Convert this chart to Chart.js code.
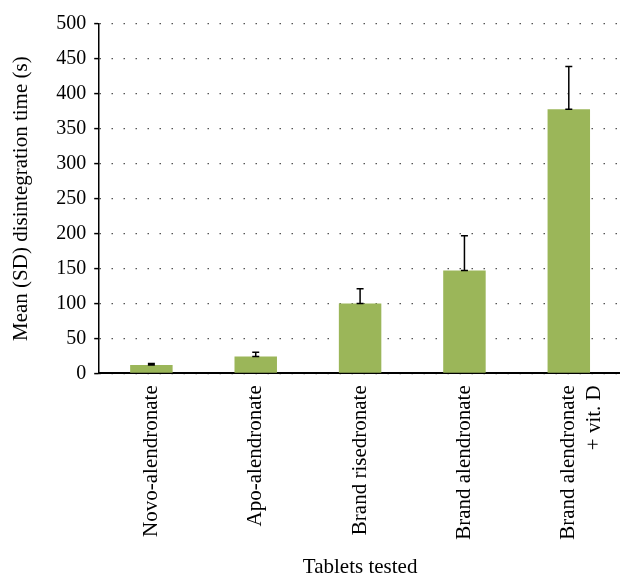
<!DOCTYPE html>
<html>
<head>
<meta charset="utf-8">
<script src="https://cdn.jsdelivr.net/npm/chart.js@4"></script>
<style>
html, body { margin: 0; padding: 0; background: #fff; overflow: hidden; }
#wrap { width: 632px; height: 577px; }
</style>
</head>
<body>
<div id="wrap"><canvas id="chart"></canvas></div>
<script>
var labels = ["Novo-alendronate", "Apo-alendronate", "Brand risedronate", "Brand alendronate", ["Brand alendronate", "+ vit. D"]];
var means = [12, 24, 100, 147, 378];
var sds = [2, 6, 21, 50, 61];
var yTicks = [0, 50, 100, 150, 200, 250, 300, 350, 400, 450, 500];

var serif = "'Liberation Serif', 'DejaVu Serif', serif";

// one-sided SD bars, capped at both ends
var errorBars = {
    id: 'errorBars',
    afterDatasetsDraw: function (chart) {
        var ctx = chart.ctx;
        var y = chart.scales.y;
        var meta = chart.getDatasetMeta(0);
        ctx.save();
        ctx.strokeStyle = '#000';
        ctx.lineWidth = 1.5;
        meta.data.forEach(function (bar, i) {
            var y0 = y.getPixelForValue(means[i]);
            var y1 = y.getPixelForValue(means[i] + sds[i]);
            var cap = 3.5;
            ctx.beginPath();
            ctx.moveTo(bar.x, y0);
            ctx.lineTo(bar.x, y1);
            ctx.moveTo(bar.x - cap, y0);
            ctx.lineTo(bar.x + cap, y0);
            ctx.moveTo(bar.x - cap, y1);
            ctx.lineTo(bar.x + cap, y1);
            ctx.stroke();
        });
        ctx.restore();
    }
};

var data = {
    labels: labels,
    datasets: [{
        data: means,
        backgroundColor: "#9bb659",
        borderWidth: 0,
        barPercentage: 0.407,
        categoryPercentage: 1.0
    }]
};

var options = {
    responsive: true,
    maintainAspectRatio: false,
    animation: false,
    layout: { padding: { top: 24, right: 8, left: 9, bottom: -3 } },
    scales: {
        y: {
            min: 0,
            max: 500,
            afterBuildTicks: function (scale) {
                scale.ticks = yTicks.map(function (v) { return { value: v }; });
            },
            ticks: {
                color: '#000',
                font: { family: serif, size: 20 },
                padding: 8
            },
            grid: {
                color: '#555',
                lineWidth: 1.2,
                drawTicks: true,
                tickLength: 5,
                tickColor: '#000',
                tickWidth: 1.5,
                tickBorderDash: []
            },
            border: {
                display: true,
                color: '#000',
                width: 1.5,
                dash: [1.5, 10.5]
            },
            title: {
                display: true,
                text: 'Mean (SD) disintegration time (s)',
                color: '#000',
                font: { family: serif, size: 21 },
                padding: { top: 0, bottom: 14 }
            }
        },
        x: {
            grid: { display: false, drawTicks: false },
            border: { display: true, color: '#000', width: 2 },
            ticks: {
                color: '#000',
                font: { family: serif, size: 21 },
                minRotation: 90,
                maxRotation: 90,
                autoSkip: false,
                padding: 12
            },
            title: {
                display: true,
                text: 'Tablets tested',
                color: '#000',
                font: { family: serif, size: 21 },
                padding: { top: 3, bottom: 0 }
            }
        }
    },
    plugins: {
        legend: { display: false },
        tooltip: { enabled: false }
    }
};

new Chart('chart', {
    type: 'bar',
    data: data,
    options: options,
    plugins: [errorBars]
});
</script>
</body>
</html>
